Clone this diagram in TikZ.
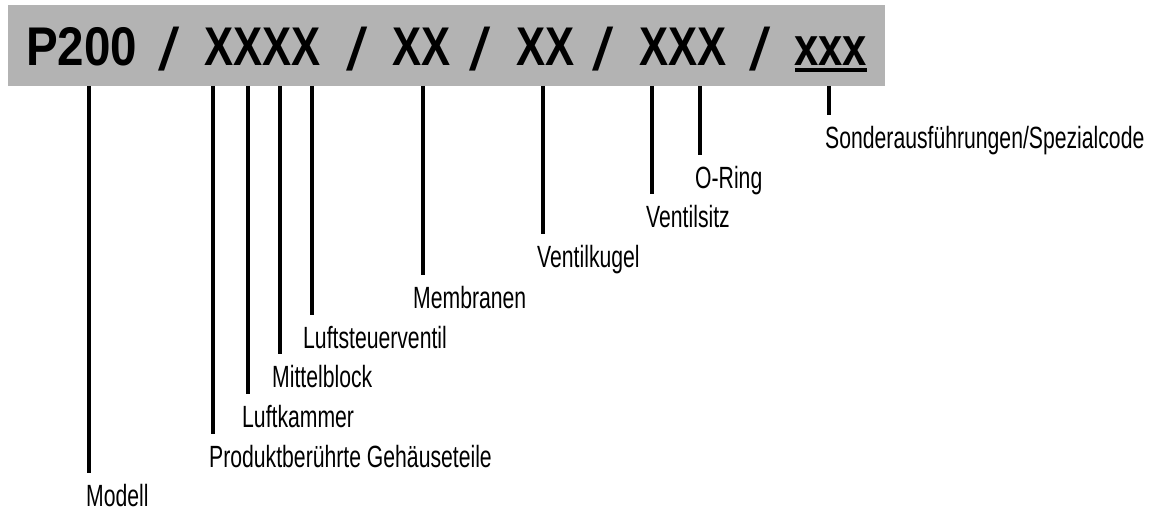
\documentclass[tikz,border=0pt]{standalone}
\usepackage{fontspec}
\setmainfont{Liberation Sans}[FakeStretch=0.69]
\newfontfamily\headfont{Liberation Sans}[FakeStretch=0.8]
\definecolor{barg}{HTML}{B3B3B3}
\newcommand{\hslash}{\raisebox{-5pt}{\scalebox{1.75}[1.1]{\mdseries /}}}
\begin{document}
\begin{tikzpicture}[x=1pt,y=-1pt,
  head/.style={anchor=base west,inner sep=0pt,font=\headfont\bfseries\fontsize{54.5}{60}\selectfont},
  lab/.style={anchor=base west,inner sep=0pt,text depth=0pt,font=\fontsize{30.7}{36}\selectfont},
  leader/.style={line width=3.2pt}]
\useasboundingbox (0,0) rectangle (1163,510);
\node[fill=barg,draw=none,inner sep=0pt,anchor=north west,minimum width=877pt,minimum height=81pt] (bar) at (8,5) {};
% header
\node[head] (h1) at (26,66) {\scalebox{1.09}[1]{P200}};
\node[head] (s1) at (158,66) {\hslash};
\node[head] (h2) at (204,66) {XXXX};
\node[head] (s2) at (346,66) {\hslash};
\node[head] (h3) at (392,66) {XX};
\node[head] (s3) at (469,66) {\hslash};
\node[head] (h4) at (516,66) {XX};
\node[head] (s4) at (592,66) {\hslash};
\node[head] (h5) at (639,66) {XXX};
\node[head] (s5) at (749,66) {\hslash};
\node[head] (h6) at (794,66) {xxx};
\draw[line width=3.3pt] (h6.base west) ++(1,4) coordinate (u1) -- (u1 -| h6.base east);
% labels
\node[lab] (l1) at (86,507) {Modell};
\node[lab] (l2) at (209,468) {Produktberührte Gehäuseteile};
\node[lab] (l3) at (242,428) {Luftkammer};
\node[lab] (l4) at (272,388) {Mittelblock};
\node[lab] (l5) at (303,349) {Luftsteuerventil};
\node[lab] (l6) at (413,309) {Membranen};
\node[lab] (l7) at (537,268) {Ventilkugel};
\node[lab] (l8) at (646,228) {Ventilsitz};
\node[lab] (l9) at (695,189) {O-Ring};
\node[lab] (l10) at (825,149) {Sonderausführungen/Spezialcode};
% leader tops
\foreach \i/\x in {1/89,2/213,3/248,4/280,5/312,6/423,7/543,8/652,9/700,10/829}{
  \coordinate (t\i) at (\x,86);
  \draw[leader] (t\i) -- ([yshift=12pt]t\i |- l\i.north);
}
\end{tikzpicture}
\end{document}
